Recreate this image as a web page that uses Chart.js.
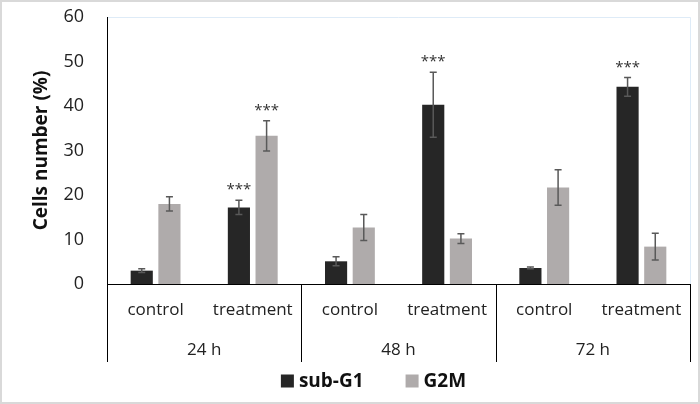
<!DOCTYPE html>
<html>
<head>
<meta charset="utf-8">
<script src="https://cdn.jsdelivr.net/npm/chart.js@4.4.1/dist/chart.umd.min.js"></script>
<style>
  html, body { margin: 0; padding: 0; background: #fff; }
  #wrap { width: 700px; height: 404px; position: relative; }
</style>
</head>
<body>
<div id="wrap"><canvas id="cellChart" width="700" height="404"></canvas></div>
<script>
// categories
const labels = ['control', 'treatment', 'control', 'treatment', 'control', 'treatment'];
const groups = ['24 h', '48 h', '72 h'];

// series values (%) and error bars
const subG1 = [3.0, 17.2, 5.1, 40.3, 3.6, 44.3];
const subG1Err = [0.4, 1.6, 1.0, 7.3, 0.2, 2.1];
const g2m = [18.0, 33.3, 12.7, 10.2, 21.7, 8.4];
const g2mErr = [1.6, 3.4, 2.9, 1.1, 4.0, 3.0];

// significance marks
const subG1Sig = [false, true, false, true, false, true];
const g2mSig = [false, true, false, false, false, false];

const yTicks = [0, 10, 20, 30, 40, 50, 60];

const FONT = '"Open Sans", "Liberation Sans", sans-serif';

const extrasPlugin = {
    id: 'extras',
    beforeDraw(chart) {
        const c = chart.ctx;
        c.save();
        c.strokeStyle = '#d9d9d9';
        c.lineWidth = 2;
        c.strokeRect(1, 1, chart.width - 2, chart.height - 2);
        // faint plot border
        const a = chart.chartArea;
        c.strokeStyle = '#deebf7';
        c.lineWidth = 1;
        c.beginPath();
        c.moveTo(a.left, a.top + 0.5);
        c.lineTo(a.right + 0.5, a.top + 0.5);
        c.lineTo(a.right + 0.5, a.bottom);
        c.stroke();
        c.restore();
    },
    afterDatasetsDraw(chart) {
        const c = chart.ctx;
        const x = chart.scales.x;
        const y = chart.scales.y;
        const a = chart.chartArea;
        const errs = [subG1Err, g2mErr];
        const sigs = [subG1Sig, g2mSig];
        c.save();
        chart.data.datasets.forEach((ds, di) => {
            const meta = chart.getDatasetMeta(di);
            meta.data.forEach((bar, i) => {
                const v = ds.data[i];
                const e = errs[di][i];
                const top = y.getPixelForValue(v + e);
                const bot = y.getPixelForValue(v - e);
                c.strokeStyle = '#595959';
                c.lineWidth = 1.5;
                c.beginPath();
                c.moveTo(bar.x, top);
                c.lineTo(bar.x, bot);
                c.moveTo(bar.x - 3.5, top);
                c.lineTo(bar.x + 3.5, top);
                c.moveTo(bar.x - 3.5, bot);
                c.lineTo(bar.x + 3.5, bot);
                c.stroke();
                if (sigs[di][i]) {
                    c.fillStyle = '#333';
                    c.font = '15px ' + FONT;
                    c.textAlign = 'center';
                    c.textBaseline = 'alphabetic';
                    c.fillText('***', bar.x, top - 6);
                }
            });
        });
        // group separators and group labels
        const bounds = [a.left];
        for (let g = 1; g < groups.length; g++) {
            bounds.push((x.getPixelForValue(g * 2 - 1) + x.getPixelForValue(g * 2)) / 2);
        }
        bounds.push(a.right);
        c.strokeStyle = '#000';
        c.lineWidth = 1;
        c.beginPath();
        bounds.forEach((bx) => {
            const px = Math.round(bx) + 0.5;
            c.moveTo(px, a.bottom);
            c.lineTo(px, a.bottom + 78);
        });
        c.stroke();
        c.fillStyle = '#222';
        c.font = '17px ' + FONT;
        c.textAlign = 'center';
        c.textBaseline = 'middle';
        groups.forEach((g, gi) => {
            c.fillText(g, (bounds[gi] + bounds[gi + 1]) / 2, a.bottom + 66);
        });

        // legend
        c.font = 'bold 19px ' + FONT;
        const box = 13, gap = 5, between = 42;
        const items = chart.data.datasets.map((ds) => ({
            text: ds.label,
            color: ds.backgroundColor,
            w: c.measureText(ds.label).width,
        }));
        let total = 0;
        items.forEach((it, k) => { total += box + gap + it.w + (k ? between : 0); });
        let lx = (a.left + a.right) / 2 - 25 - total / 2;
        const ly = a.bottom + 97;
        c.textAlign = 'left';
        items.forEach((it) => {
            c.fillStyle = it.color;
            c.fillRect(lx, ly - box / 2, box, box);
            c.fillStyle = '#111';
            c.fillText(it.text, lx + box + gap, ly + 1);
            lx += box + gap + it.w + between;
        });
        c.restore();
    },
};

const ctx = document.getElementById('cellChart').getContext('2d');
const config = {
    type: 'bar',
    data: {
        labels: labels,
        datasets: [
            {
                label: 'sub-G1',
                data: subG1,
                backgroundColor: '#262626',
                categoryPercentage: 0.57,
                barPercentage: 0.8,
            },
            {
                label: 'G2M',
                data: g2m,
                backgroundColor: '#afabab',
                categoryPercentage: 0.57,
                barPercentage: 0.8,
            },
        ],
    },
    options: {
        responsive: false,
        animation: false,
        layout: {
            padding: { top: 17, right: 10, bottom: 38, left: 0 },
        },
        scales: {
            x: {
                grid: { display: false, drawTicks: false },
                border: { display: true, color: '#000', width: 1 },
                ticks: {
                    color: '#222',
                    font: { family: FONT, size: 17 },
                    padding: 16,
                    maxRotation: 0,
                },
                afterFit(s) {
                    s.height = 82;
                    s.paddingLeft = 0;
                    s.paddingRight = 0;
                },
            },
            y: {
                min: 0,
                max: 60,
                afterBuildTicks(s) { s.ticks = yTicks.map((v) => ({ value: v })); },
                grid: { display: false, drawTicks: false },
                border: { display: true, color: '#000', width: 1 },
                ticks: {
                    color: '#222',
                    font: { family: FONT, size: 18 },
                    padding: 23,
                },
                title: {
                    display: true,
                    text: 'Cells number (%)',
                    color: '#111',
                    font: { family: FONT, size: 19, weight: 'bold' },
                    padding: { top: 30, bottom: 0 },
                },
                afterFit(s) {
                    s.width = 107;
                    s.paddingTop = 0;
                    s.paddingBottom = 0;
                },
            },
        },
        plugins: {
            legend: { display: false },
            tooltip: { enabled: false },
        },
    },
    plugins: [extrasPlugin],
};
const cellChart = new Chart(ctx, config);
</script>
</body>
</html>
